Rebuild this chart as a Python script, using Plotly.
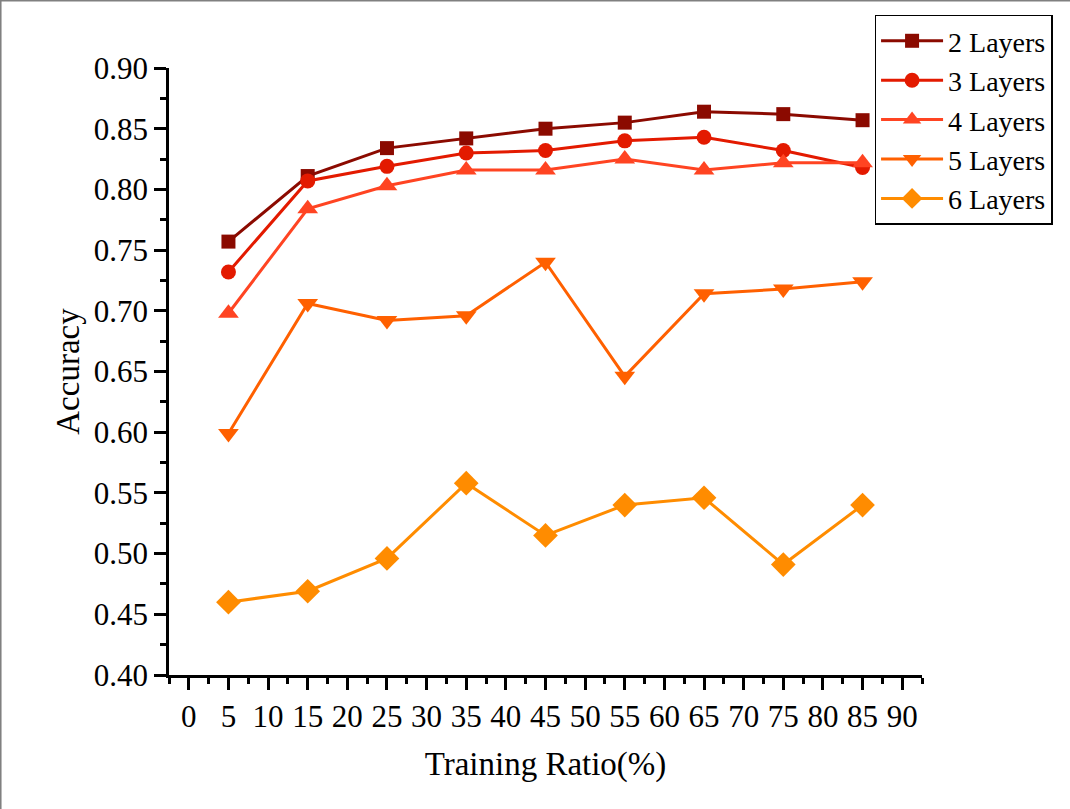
import plotly.graph_objects as go

ratios = [5, 15, 25, 35, 45, 55, 65, 75, 85]
layers2 = [0.757, 0.811, 0.834, 0.842, 0.850, 0.855, 0.864, 0.862, 0.857]
layers3 = [0.732, 0.807, 0.819, 0.830, 0.832, 0.840, 0.843, 0.832, 0.818]
layers4 = [0.698, 0.784, 0.803, 0.816, 0.816, 0.825, 0.816, 0.822, 0.822]
layers5 = [0.599, 0.706, 0.692, 0.696, 0.740, 0.646, 0.714, 0.718, 0.724]
layers6 = [0.460, 0.469, 0.496, 0.558, 0.515, 0.540, 0.546, 0.491, 0.540]

series = [
    ("2 Layers", layers2, "#8B0A00", "square", 14),
    ("3 Layers", layers3, "#E31A00", "circle", 15),
    ("4 Layers", layers4, "#FF4422", "triangle-up", 18),
    ("5 Layers", layers5, "#FF6000", "triangle-down", 18),
    ("6 Layers", layers6, "#FF8C00", "diamond", 19),
]

FONT = "Liberation Serif"

fig = go.Figure()
for name, vals, color, sym, size in series:
    fig.add_trace(go.Scatter(
        x=ratios, y=vals, name=name, mode="lines+markers",
        line=dict(color=color, width=3),
        marker=dict(symbol=sym, size=size, color=color, line=dict(width=0)),
    ))

axis_common = dict(
    showgrid=False, zeroline=False, showline=True, linecolor="black", linewidth=2.5,
    ticks="outside", ticklen=12, tickwidth=2.5, tickcolor="black",
    tickfont=dict(family=FONT, size=31, color="black"),
    mirror=False,
)

fig.update_layout(
    width=1070, height=809,
    margin=dict(l=169, r=148, t=68, b=134),
    paper_bgcolor="white", plot_bgcolor="white",
    font=dict(family=FONT, color="black"),
    xaxis=dict(
        range=[-2.5, 92.5], tick0=0, dtick=5,
        title=dict(text="Training Ratio(%)", font=dict(family=FONT, size=33), standoff=19),
        minor=dict(tick0=0, dtick=2.5, ticks="outside", ticklen=6, tickwidth=2.5, tickcolor="black"),
        **axis_common,
    ),
    yaxis=dict(
        range=[0.40, 0.90], tick0=0.40, dtick=0.05, tickformat=".2f",
        title=dict(text="Accuracy", font=dict(family=FONT, size=33), standoff=5),
        minor=dict(tick0=0.40, dtick=0.025, ticks="outside", ticklen=6, tickwidth=2.5, tickcolor="black"),
        **axis_common,
    ),
    legend=dict(
        x=0.937, y=1.088, xanchor="left", yanchor="top",
        bordercolor="black", borderwidth=1.5, bgcolor="white",
        font=dict(family=FONT, size=28, color="black"),
        tracegroupgap=0, itemwidth=62,
    ),
    showlegend=True,
    shapes=[
        dict(type="line", xref="paper", yref="paper", x0=-0.2244, x1=1.2, y0=1.1112, y1=1.1112,
             line=dict(color="#808080", width=2)),
        dict(type="line", xref="paper", yref="paper", x0=-0.2237, x1=-0.2237, y0=1.12, y1=-0.25,
             line=dict(color="#808080", width=2)),
    ],
)

fig.write_html("out.html")
